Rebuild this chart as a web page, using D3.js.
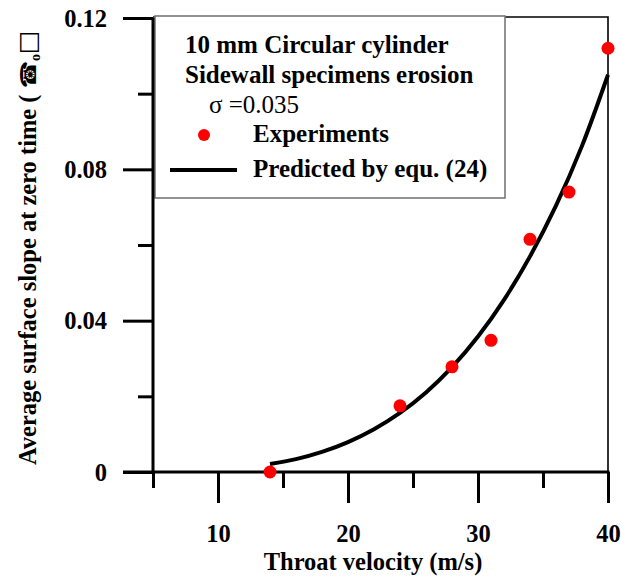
<!DOCTYPE html>
<html>
<head>
<meta charset="utf-8">
<script src="https://cdn.jsdelivr.net/npm/d3@7"></script>
<style>
  html, body { margin: 0; padding: 0; background: #fff; }
  svg { display: block; font-family: "Liberation Serif", "Times New Roman", serif; }
</style>
</head>
<body>
<svg id="chart" width="621" height="576"></svg>
<script>
// Measured erosion: throat velocity (m/s) vs. average surface slope at zero time
const expVelocity = [14, 24, 28, 31, 34, 37, 40];
const expSlope    = [0.0, 0.0175, 0.0278, 0.0348, 0.0615, 0.0740, 0.1120];

// Prediction curve by equ. (24)
const predVelocity = [14, 16, 18, 20, 22, 24, 26, 28, 30, 32, 34, 36, 38, 40];
const predSlope    = [0.0021, 0.0034, 0.0053, 0.0079, 0.0113, 0.0156, 0.0210,
                      0.0277, 0.0358, 0.0455, 0.0570, 0.0704, 0.0862, 0.1050];

// Axis ticks
const xMajorTicks = [10, 20, 30, 40];
const xMinorTicks = [5, 15, 25, 35];
const yMajorTicks = [0, 0.04, 0.08, 0.12];
const yMinorTicks = [0.02, 0.06, 0.10];

const legendTitle = ["10 mm Circular cylinder", "Sidewall specimens erosion"];
const sigmaLabel = "\u03C3 =0.035";
const legendItems = ["Experiments", "Predicted by equ. (24)"];

const svg = d3.select("#chart");
const x = d3.scaleLinear().domain([5, 40]).range([153, 608]);
const y = d3.scaleLinear().domain([0, 0.12]).range([472, 18]);

const FS = 24.5;
const LFS = 25;

// Outer frame (top and right)
svg.append("path")
  .attr("d", `M${x(5)},${y(0.12) - 1}H${x(40)}V${y(0)}`)
  .attr("fill", "none").attr("stroke", "#000").attr("stroke-width", 1.6);

// Legend box
const lg = svg.append("g");
lg.append("rect")
  .attr("x", 155).attr("y", 16).attr("width", 350).attr("height", 182)
  .attr("fill", "#fff").attr("stroke", "#777").attr("stroke-width", 1.6);
lg.selectAll("text.title").data(legendTitle).join("text")
  .attr("class", "title")
  .attr("x", 185).attr("y", (d, i) => 53 + i * 30)
  .attr("font-size", LFS).attr("font-weight", "bold").text(d => d);
lg.append("text").attr("x", 209).attr("y", 113)
  .attr("font-size", LFS).text(sigmaLabel);
lg.append("circle").attr("cx", 204).attr("cy", 135).attr("r", 6).attr("fill", "#ff0000");
lg.append("line").attr("x1", 170).attr("x2", 237).attr("y1", 170).attr("y2", 170)
  .attr("stroke", "#000").attr("stroke-width", 4);
lg.selectAll("text.item").data(legendItems).join("text")
  .attr("class", "item")
  .attr("x", 253).attr("y", (d, i) => 142 + i * 35)
  .attr("font-size", LFS).attr("font-weight", "bold").text(d => d);

// Y axis
const yMajor = svg.append("g").attr("transform", `translate(${x(5)},0)`)
  .call(d3.axisLeft(y).tickValues(yMajorTicks).tickSize(30).tickPadding(16)
    .tickFormat(d => d === 0 ? "0" : d3.format(".2f")(d)));
const yMinor = svg.append("g").attr("transform", `translate(${x(5)},0)`)
  .call(d3.axisLeft(y).tickValues(yMinorTicks).tickSize(15).tickFormat(""));
[yMajor, yMinor].forEach(g => {
  g.select(".domain").remove();
  g.selectAll("line").attr("stroke", "#000").attr("stroke-width", 3);
});
yMajor.selectAll("text")
  .attr("font-family", "Liberation Serif, serif")
  .attr("font-size", FS).attr("font-weight", "bold").attr("fill", "#000")
  .attr("dy", "0.33em");

// X axis
const xMajor = svg.append("g").attr("transform", `translate(0,${y(0)})`)
  .call(d3.axisBottom(x).tickValues(xMajorTicks).tickSize(31).tickPadding(22));
const xMinor = svg.append("g").attr("transform", `translate(0,${y(0)})`)
  .call(d3.axisBottom(x).tickValues(xMinorTicks).tickSize(16).tickFormat(""));
[xMajor, xMinor].forEach(g => {
  g.select(".domain").remove();
  g.selectAll("line").attr("stroke", "#000").attr("stroke-width", 3);
});
xMajor.selectAll("text")
  .attr("font-family", "Liberation Serif, serif")
  .attr("font-size", FS).attr("font-weight", "bold").attr("fill", "#000");

// Axis lines
svg.append("line").attr("x1", x(5)).attr("x2", x(5)).attr("y1", y(0.12)).attr("y2", y(0) + 1.5)
  .attr("stroke", "#000").attr("stroke-width", 3);
svg.append("line").attr("x1", x(5) - 30).attr("x2", x(40) + 1.5).attr("y1", y(0)).attr("y2", y(0))
  .attr("stroke", "#000").attr("stroke-width", 3);

// Axis titles
svg.append("text").attr("x", 373).attr("y", 570).attr("text-anchor", "middle")
  .attr("font-size", FS).attr("font-weight", "bold").text("Throat velocity (m/s)");
const yt = svg.append("text")
  .attr("transform", "translate(36,465) rotate(-90)")
  .attr("font-size", FS).attr("font-weight", "bold");
yt.append("tspan").text("Average surface slope at zero time ( ");
yt.append("tspan").attr("font-family", "DejaVu Sans").attr("font-weight", "normal")
  .attr("font-size", 22).text("\u260E");
yt.append("tspan").attr("font-size", 14).attr("dy", 4).text("o");
yt.append("tspan").attr("font-family", "DejaVu Sans").attr("font-weight", "normal")
  .attr("dy", -4).text("\u25A1");

// Predicted curve
const line = d3.line()
  .x((d, i) => x(predVelocity[i]))
  .y(d => y(d))
  .curve(d3.curveCatmullRom);
svg.append("path").datum(predSlope)
  .attr("d", line)
  .attr("fill", "none").attr("stroke", "#000").attr("stroke-width", 4);

// Experimental points
svg.append("g").selectAll("circle").data(expSlope).join("circle")
  .attr("cx", (d, i) => x(expVelocity[i]))
  .attr("cy", d => y(d))
  .attr("r", 6.5)
  .attr("fill", "#ff0000");
</script>
</body>
</html>
